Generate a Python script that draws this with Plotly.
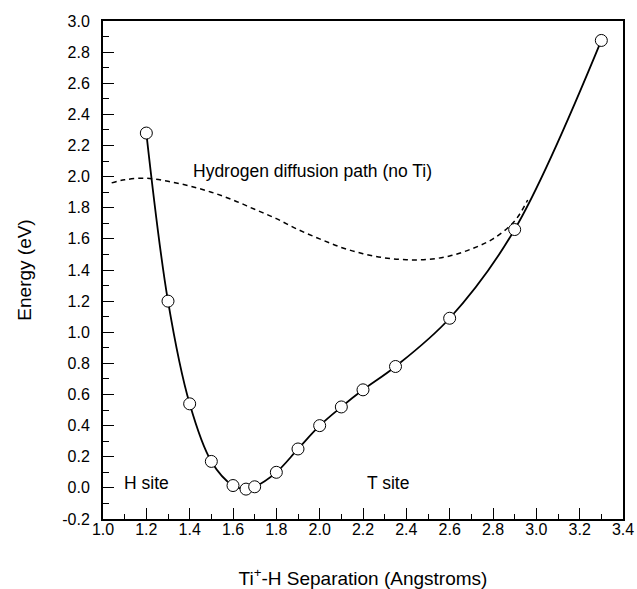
import plotly.graph_objects as go

# Ti+-H separation (Angstroms) and energy (eV) of computed points
sep = [1.20, 1.30, 1.40, 1.50, 1.60, 1.66, 1.70, 1.80, 1.90, 2.00, 2.10, 2.20, 2.35, 2.60, 2.90, 3.30]
energy = [2.28, 1.20, 0.54, 0.17, 0.015, -0.008, 0.007, 0.10, 0.25, 0.40, 0.52, 0.63, 0.78, 1.09, 1.66, 2.875]

# Hydrogen diffusion path (no Ti)
path_x = [1.04, 1.10, 1.20, 1.30, 1.40, 1.50, 1.60, 1.70, 1.80, 1.90, 2.00, 2.10, 2.20, 2.30, 2.40, 2.50, 2.60, 2.70, 2.80, 2.90, 2.96]
path_y = [1.96, 1.98, 1.99, 1.97, 1.94, 1.90, 1.85, 1.79, 1.73, 1.66, 1.60, 1.545, 1.505, 1.478, 1.466, 1.468, 1.49, 1.535, 1.60, 1.715, 1.85]

x_ticks = [1.0, 1.2, 1.4, 1.6, 1.8, 2.0, 2.2, 2.4, 2.6, 2.8, 3.0, 3.2, 3.4]
x_tick_labels = ["1.0", "1.2", "1.4", "1.6", "1.8", "2.0", "2.2", "2.4", "2.6", "2.8", "3.0", "3.2", "3.4"]
y_ticks = [-0.2, 0.0, 0.2, 0.4, 0.6, 0.8, 1.0, 1.2, 1.4, 1.6, 1.8, 2.0, 2.2, 2.4, 2.6, 2.8, 3.0]
y_tick_labels = ["-0.2", "0.0", "0.2", "0.4", "0.6", "0.8", "1.0", "1.2", "1.4", "1.6", "1.8", "2.0", "2.2", "2.4", "2.6", "2.8", "3.0"]

FONT = "Liberation Sans, Arial, sans-serif"

fig = go.Figure()
fig.add_trace(go.Scatter(
    x=path_x, y=path_y, mode="lines",
    line=dict(color="black", width=1.5, dash="5px,4px", shape="spline", smoothing=1.0),
    hoverinfo="skip", showlegend=False,
))
fig.add_trace(go.Scatter(
    x=sep, y=energy, mode="lines+markers",
    line=dict(color="black", width=1.8, shape="spline", smoothing=1.0),
    marker=dict(symbol="circle", size=12, color="white", line=dict(color="black", width=1)),
    showlegend=False,
))

fig.add_annotation(x=1.405, y=2.034, text="Hydrogen diffusion path (no Ti)", showarrow=False,
                   xanchor="left", yanchor="middle", font=dict(family=FONT, size=17.5, color="black"))
fig.add_annotation(x=1.203, y=0.03, text="H site", showarrow=False,
                   xanchor="center", yanchor="middle", font=dict(family=FONT, size=17.5, color="black"))
fig.add_annotation(x=2.315, y=0.03, text="T site", showarrow=False,
                   xanchor="center", yanchor="middle", font=dict(family=FONT, size=17.5, color="black"))

fig.update_layout(
    width=637, height=589,
    margin=dict(l=103, r=14, t=21, b=70, autoexpand=False),
    paper_bgcolor="white", plot_bgcolor="white",
    font=dict(family=FONT, color="black"),
)
fig.update_xaxes(
    range=[1.0, 3.4], showgrid=False, zeroline=False, automargin=False,
    showline=True, linecolor="black", linewidth=2, mirror=True,
    ticks="inside", ticklen=11, tickwidth=1.2, tickcolor="black",
    tickvals=x_ticks, ticktext=x_tick_labels, ticklabeloverflow="allow",
    ticklabelstandoff=-5,
    tickfont=dict(family=FONT, size=16, color="black"),
    minor=dict(ticks="inside", ticklen=5, tickwidth=1, tickcolor="black", dtick=0.1, tick0=1.0, showgrid=False),
    title=dict(text="Ti<sup>+</sup>-H Separation (Angstroms)", font=dict(family=FONT, size=19, color="black"), standoff=35),
)
fig.update_yaxes(
    range=[-0.2, 3.0], showgrid=False, zeroline=False, automargin=False,
    showline=True, linecolor="black", linewidth=2, mirror=True,
    ticks="inside", ticklen=11, tickwidth=1.2, tickcolor="black",
    tickvals=y_ticks, ticktext=y_tick_labels, ticklabeloverflow="allow",
    tickfont=dict(family=FONT, size=16, color="black"),
    ticklabelstandoff=8,
    minor=dict(ticks="inside", ticklen=6, tickwidth=1, tickcolor="black", dtick=0.1, tick0=0.0, showgrid=False),
    title=dict(text="Energy (eV)", font=dict(family=FONT, size=19, color="black"), standoff=26),
)

fig.write_html("out.html", config={"displayModeBar": False},
               post_script="document.body.style.margin='0';")
